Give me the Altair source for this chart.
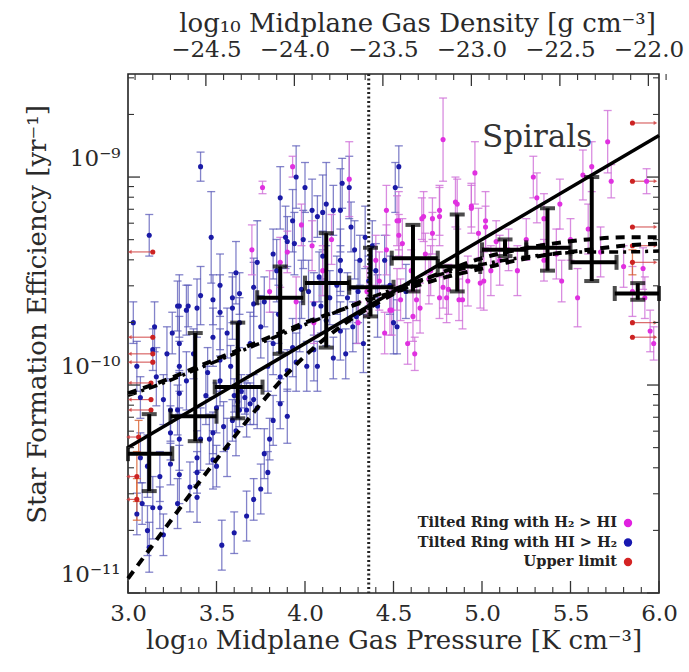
import altair as alt
import pandas as pd

# ---------------- data ----------------
# Tilted rings with HI > H2 (blue): log10 P, log10 SFE, error (dex)
blue_p = [3.03, 3.15, 3.14, 3.29, 3.33, 3.39, 3.25, 3.29, 3.05, 3.07, 3.16, 3.20, 3.24, 3.28, 3.29,
          3.24, 3.29, 3.07, 3.11, 3.18, 3.24, 3.29, 3.35, 3.08, 3.14, 3.18, 3.11, 3.28, 3.39, 3.39,
          3.46, 3.48, 3.50, 3.54, 3.59, 3.61, 3.67, 3.69, 3.71, 3.73, 3.56, 3.50, 3.41, 3.29, 3.33,
          3.45, 3.52, 3.58, 3.52, 3.48, 3.52, 3.59, 3.63, 3.71, 3.75, 3.79, 3.82, 3.86, 3.90, 3.95,
          4.01, 4.05, 4.07, 4.16, 3.93, 3.86, 3.90, 3.82, 3.80, 3.77, 3.79, 3.75, 3.71, 3.67, 3.60,
          3.53, 3.39, 3.48, 4.29, 4.33, 4.27, 4.20, 4.12, 4.05, 4.52, 3.41, 3.12, 3.47, 3.28, 3.34,
          3.41, 3.48, 3.52, 3.59, 3.61, 3.63, 3.71, 3.73, 3.82, 3.84, 3.89, 3.90, 3.94, 3.99, 4.04,
          4.07, 4.10, 4.12, 4.16, 4.20, 4.20, 4.21, 4.25, 4.26, 4.28, 4.31, 4.34, 4.38, 4.51, 4.53,
          3.98, 4.10, 3.93, 4.20, 4.50, 3.05, 3.12, 3.20, 3.60, 3.62, 3.64, 3.66, 3.63, 4.02, 4.08,
          4.14, 4.18, 4.24, 4.30, 4.36, 4.40, 4.45, 4.48, 3.86, 3.95, 4.00, 3.22, 3.37, 3.44, 3.56,
          3.69, 3.77, 3.85, 3.97, 4.09, 4.23, 4.41, 4.57]
blue_lsfe = [-9.70, -9.72, -9.83, -9.62, -9.64, -9.63, -9.75, -9.80, -9.91, -10.06, -9.96, -10.07, -10.12, -10.12, -10.04,
             -10.23, -10.26, -10.35, -10.39, -10.44, -10.38, -10.43, -10.49, -10.57, -10.59, -10.59, -10.70, -10.57, -10.35, -10.42,
             -10.26, -10.36, -10.39, -10.20, -10.17, -10.22, -10.12, -10.09, -10.07, -10.11, -10.30, -10.11, -10.26, -9.91, -9.98,
             -9.94, -9.88, -9.91, -9.98, -9.77, -9.65, -9.63, -9.70, -9.61, -9.72, -9.91, -9.80, -9.96, -9.93, -9.89,
             -9.91, -9.83, -9.91, -9.87, -9.82, -10.09, -10.15, -10.17, -10.26, -10.33, -10.42, -10.50, -10.55, -10.63, -10.71,
             -10.77, -10.54, -10.23, -9.67, -9.80, -9.72, -9.74, -9.69, -9.61, -9.72, -8.95, -9.28, -9.29, -9.62, -9.62,
             -9.57, -9.59, -9.52, -9.58, -9.46, -9.56, -9.53, -9.41, -9.37, -9.45, -9.29, -9.31, -9.32, -9.30, -9.16,
             -9.19, -9.17, -9.13, -9.16, -9.16, -9.40, -9.03, -9.05, -9.24, -9.35, -9.40, -9.29, -9.33, -9.05, -8.95,
             -9.54, -9.38, -9.21, -9.45, -9.70, -10.62, -10.78, -10.72, -10.05, -10.08, -10.03, -10.06, -10.12, -9.55, -9.48,
             -9.58, -9.52, -9.58, -9.55, -9.50, -9.45, -9.40, -9.52, -9.10, -9.00, -9.05, -9.85, -9.85, -10.05, -9.75,
             -9.80, -9.60, -9.66, -9.72, -9.62, -9.85, -9.62, -9.55]
blue_err = [0.10, 0.12, 0.10, 0.15, 0.12, 0.14, 0.10, 0.13, 0.12, 0.10, 0.14, 0.12, 0.15, 0.12, 0.10,
            0.13, 0.15, 0.12, 0.15, 0.12, 0.10, 0.14, 0.12, 0.10, 0.15, 0.10, 0.12, 0.12, 0.13, 0.10,
            0.12, 0.14, 0.10, 0.12, 0.10, 0.12, 0.13, 0.10, 0.12, 0.10, 0.14, 0.12, 0.15, 0.12, 0.14,
            0.12, 0.15, 0.10, 0.12, 0.14, 0.18, 0.15, 0.12, 0.20, 0.15, 0.12, 0.15, 0.12, 0.10, 0.14,
            0.12, 0.15, 0.12, 0.10, 0.14, 0.12, 0.13, 0.12, 0.10, 0.12, 0.10, 0.12, 0.10, 0.12, 0.10,
            0.12, 0.12, 0.10, 0.13, 0.14, 0.12, 0.14, 0.12, 0.15, 0.13, 0.07, 0.10, 0.22, 0.12, 0.10,
            0.14, 0.12, 0.15, 0.12, 0.15, 0.10, 0.14, 0.20, 0.12, 0.15, 0.15, 0.12, 0.15, 0.14, 0.15,
            0.10, 0.18, 0.20, 0.12, 0.20, 0.15, 0.12, 0.15, 0.12, 0.14, 0.12, 0.15, 0.12, 0.12, 0.10,
            0.14, 0.12, 0.15, 0.12, 0.15, 0.10, 0.12, 0.10, 0.08, 0.08, 0.08, 0.08, 0.08, 0.15, 0.12,
            0.13, 0.14, 0.12, 0.15, 0.12, 0.13, 0.12, 0.14, 0.15, 0.15, 0.12, 0.13, 0.12, 0.14, 0.12,
            0.15, 0.12, 0.14, 0.12, 0.13, 0.12, 0.15, 0.13]

# Tilted rings with H2 > HI (magenta)
mag_p = [3.76, 3.93, 3.98, 4.04, 3.90, 3.86, 4.25, 4.46, 4.52, 4.53, 4.46, 4.67, 4.72, 4.76, 4.85,
         4.94, 4.98, 5.02, 4.80, 4.78, 4.87, 4.92, 4.48, 4.54, 4.42, 4.61, 4.63, 4.70, 5.01, 4.78,
         4.76, 4.66, 4.72, 4.86, 4.96, 4.94, 5.02, 5.08, 5.29, 5.31, 5.44, 5.57, 5.71, 5.73, 5.93,
         5.42, 5.35, 5.54, 5.67, 5.92, 4.65, 4.76, 4.89, 4.99, 4.81, 4.52, 4.55, 4.53, 4.68, 4.71,
         4.49, 5.95, 5.97, 5.80, 5.91, 5.85, 5.10, 5.15, 5.20, 5.25, 5.05, 4.60, 4.40, 4.35, 4.30,
         4.58, 4.62, 4.45, 5.35, 5.50, 5.60, 5.45, 3.70, 3.80, 4.10, 4.15, 4.05, 3.95, 5.62]
mag_lsfe = [-9.05, -8.95, -9.23, -9.33, -9.36, -9.41, -9.01, -9.16, -9.21, -9.28, -9.35, -9.19, -9.27, -9.19, -9.12,
            -9.14, -9.27, -9.21, -9.58, -9.53, -9.59, -9.50, -9.64, -9.59, -9.50, -9.67, -9.59, -9.49, -9.50, -8.82,
            -9.16, -9.20, -9.20, -9.13, -8.98, -9.15, -9.24, -9.31, -9.00, -9.10, -9.13, -8.99, -8.83, -9.02, -9.02,
            -9.37, -9.40, -9.58, -9.36, -9.58, -9.63, -9.58, -9.59, -9.51, -9.54, -9.54, -9.32, -9.21, -9.37, -9.45,
            -9.64, -9.74, -9.80, -9.43, -9.44, -9.55, -9.40, -9.35, -9.45, -9.30, -9.45, -9.45, -9.40, -9.55, -9.70,
            -9.80, -9.85, -9.75, -9.20, -9.30, -9.25, -9.50, -9.35, -9.55, -9.45, -9.30, -9.70, -9.60, -8.95]
mag_err = [0.03, 0.05, 0.10, 0.12, 0.10, 0.12, 0.18, 0.12, 0.12, 0.10, 0.12, 0.12, 0.10, 0.14, 0.12,
           0.10, 0.12, 0.14, 0.12, 0.10, 0.10, 0.12, 0.12, 0.10, 0.14, 0.12, 0.10, 0.12, 0.14, 0.20,
           0.12, 0.10, 0.10, 0.12, 0.15, 0.12, 0.10, 0.10, 0.10, 0.12, 0.12, 0.12, 0.15, 0.08, 0.06,
           0.12, 0.10, 0.14, 0.12, 0.10, 0.12, 0.10, 0.14, 0.12, 0.12, 0.10, 0.12, 0.14, 0.10, 0.12,
           0.12, 0.10, 0.08, 0.10, 0.10, 0.12, 0.12, 0.10, 0.12, 0.10, 0.12, 0.10, 0.12, 0.12, 0.10,
           0.10, 0.08, 0.10, 0.12, 0.10, 0.12, 0.10, 0.12, 0.10, 0.12, 0.12, 0.10, 0.12, 0.12]

# Upper limits (red): position, vertical error, end of the horizontal arrow
red_p = [3.14, 3.14, 3.14, 3.14, 3.13, 3.13, 3.13, 3.06, 3.05, 3.05,
         5.85, 5.85, 5.85, 5.85, 5.85, 5.85, 5.85]
red_lsfe = [-9.36, -9.77, -9.85, -9.89, -9.99, -10.07, -10.12, -10.25, -10.44, -10.55,
            -8.74, -9.02, -9.24, -9.33, -9.41, -9.70, -9.77]
red_err = [0.0, 0.0, 0.0, 0.0, 0.0, 0.0, 0.0, 0.08, 0.12, 0.10,
           0.0, 0.0, 0.0, 0.0, 0.06, 0.0, 0.0]
red_p_end = [3.01, 3.01, 3.01, 3.01, 3.01, 3.01, 3.01, 3.0, 3.0, 3.0,
             5.98, 5.98, 5.98, 5.98, 5.98, 5.98, 5.98]

# Binned averages (black crosses)
bin_p = [3.12, 3.38, 3.62, 3.86, 4.12, 4.37, 4.61, 4.86, 5.13, 5.37, 5.62, 5.88]
bin_lsfe = [-10.33, -10.15, -10.01, -9.58, -9.51, -9.53, -9.39, -9.43, -9.35, -9.34, -9.41, -9.56]
bin_lo = [-10.51, -10.27, -10.16, -9.85, -9.82, -9.67, -9.55, -9.55, -9.38, -9.45, -9.50, -9.59]
bin_hi = [-10.14, -9.75, -9.70, -9.43, -9.27, -9.34, -9.23, -9.18, -9.30, -9.15, -9.00, -9.51]
bin_plo = [3.00, 3.24, 3.49, 3.73, 4.00, 4.25, 4.49, 4.75, 5.00, 5.25, 5.50, 5.75]
bin_phi = [3.25, 3.50, 3.76, 3.99, 4.25, 4.50, 4.75, 4.99, 5.25, 5.50, 5.76, 6.00]

# Model curves
spiral_p = [3.0, 6.0]
spiral_lsfe = [-10.30, -8.80]
curve_p = [3.0, 3.2, 3.4, 3.6, 3.8, 4.0, 4.2, 4.4, 4.6, 4.8, 5.0, 5.2, 5.4, 5.6, 5.8, 6.0]
steep_lsfe = [-10.93, -10.70, -10.47, -10.25, -10.04, -9.86, -9.72, -9.61, -9.52, -9.45, -9.39, -9.35, -9.32, -9.30, -9.29, -9.29]
shallow_lsfe = [-10.04, -9.98, -9.91, -9.84, -9.77, -9.70, -9.64, -9.58, -9.53, -9.48, -9.44, -9.40, -9.37, -9.35, -9.33, -9.32]
dashdot_lsfe = [-10.05, -9.99, -9.92, -9.85, -9.78, -9.71, -9.64, -9.57, -9.51, -9.46, -9.42, -9.39, -9.37, -9.36, -9.36, -9.355]
vline_p = [4.36]

# Axes
x_labels = [3.0, 3.5, 4.0, 4.5, 5.0, 5.5, 6.0]
top_labels = [-24.5, -24.0, -23.5, -23.0, -22.5, -22.0]
density_offset = 27.94   # log rho = log P - offset
y_labels = [1e-11, 1e-10, 1e-9]

legend_labels = ["Tilted Ring with H₂ > HI", "Tilted Ring with HI > H₂", "Upper limit"]
legend_colors = ["#e020e0", "#1818b0", "#d42424"]

# ---------------- build tables ----------------
def pts(p, l, e):
    df = pd.DataFrame({"p": p, "l": l, "e": e})
    df["sfe"] = 10 ** df["l"]
    df["lo"] = 10 ** (df["l"] - df["e"])
    df["hi"] = 10 ** (df["l"] + df["e"])
    return df

blue = pts(blue_p, blue_lsfe, blue_err)
mag = pts(mag_p, mag_lsfe, mag_err)
red = pts(red_p, red_lsfe, red_err)
red["p2"] = red_p_end
red["dir"] = ["L" if b < a else "R" for a, b in zip(red_p, red_p_end)]
red_eb = red[red["e"] > 0]

bins = pd.DataFrame({"p": bin_p, "sfe": [10 ** v for v in bin_lsfe],
                     "lo": [10 ** v for v in bin_lo], "hi": [10 ** v for v in bin_hi],
                     "plo": bin_plo, "phi": bin_phi})
spiral = pd.DataFrame({"p": spiral_p, "sfe": [10 ** v for v in spiral_lsfe]})
steep = pd.DataFrame({"p": curve_p, "sfe": [10 ** v for v in steep_lsfe]})
shallow = pd.DataFrame({"p": curve_p, "sfe": [10 ** v for v in shallow_lsfe]})
dashdot = pd.DataFrame({"p": curve_p, "sfe": [10 ** v for v in dashdot_lsfe]})
vline = pd.DataFrame({"p": vline_p})

x_minor = [round(3.0 + 0.1 * i, 1) for i in range(31)]
xt_major = pd.DataFrame({"v": x_labels})
xt_minor = pd.DataFrame({"v": [v for v in x_minor if v not in x_labels]})
y_minor_vals = [m * 10.0 ** k for k in (-11, -10, -9) for m in range(2, 10) if m * 10.0 ** k < 3.1e-9]
yt_major = pd.DataFrame({"v": y_labels})
yt_minor = pd.DataFrame({"v": y_minor_vals})
d_minor = [round(-24.9 + 0.1 * i, 1) for i in range(31)]
dt_major = pd.DataFrame({"d": top_labels})
dt_minor = pd.DataFrame({"d": [v for v in d_minor if v not in top_labels]})

# ---------------- chart ----------------
W, H = 531, 519
FONT = "DejaVu Serif"
TXT = "#2a2a2a"

xs = alt.Scale(domain=[3.0, 6.0], nice=False, zero=False)
ys = alt.Scale(type="log", domain=[1e-11, 3.13e-9], nice=False)
ds = alt.Scale(domain=[3.0 - density_offset, 6.0 - density_offset], nice=False, zero=False)

x_axis = alt.Axis(values=x_labels, format=".1f", ticks=False, domain=False, grid=False,
                  labelFlush=False, labelOverlap=False, labelPadding=9, labelFontSize=23,
                  labelFont=FONT, labelColor=TXT,
                  title="log₁₀ Midplane Gas Pressure [K cm⁻³]", titleFont=FONT, titleFontSize=26,
                  titleFontWeight="normal", titleColor=TXT, titlePadding=2)
y_axis = alt.Axis(values=y_labels, ticks=False, domain=False, grid=False,
                  labelExpr="datum.value < 5e-11 ? '10⁻¹¹' : (datum.value < 5e-10 ? '10⁻¹⁰' : '10⁻⁹')",
                  labelPadding=8, labelFontSize=23, labelFont=FONT, labelColor=TXT,
                  labelOverlap=False, labelFlush=False, labelOffset=-19,
                  title="Star Formation Efficiency [yr⁻¹]", titleFont=FONT, titleFontSize=26,
                  titleFontWeight="normal", titleColor=TXT, titleX=-91, titleY=240,
                  titleAngle=270, titleAlign="center", titleBaseline="middle")
top_axis = alt.Axis(values=top_labels, format=".1f", ticks=False, domain=False, grid=False,
                    orient="top", labelFlush=False, labelOverlap=False, labelPadding=13,
                    labelFontSize=23, labelFont=FONT, labelColor=TXT,
                    title="log₁₀ Midplane Gas Density [g cm⁻³]", titleFont=FONT, titleFontSize=26,
                    titleFontWeight="normal", titleColor=TXT, titlePadding=2,
                    titleX=289, titleAlign="center")


def X(f):
    return alt.X(f, type="quantitative", scale=xs, axis=x_axis)


def Y(f):
    return alt.Y(f, type="quantitative", scale=ys, axis=y_axis)


def errbars(df, color, op):
    rule = alt.Chart(df).mark_rule(color=color, strokeWidth=1.3, opacity=op).encode(
        x=X("p"), y=Y("lo"), y2="hi")
    cap1 = alt.Chart(df).mark_tick(color=color, orient="horizontal", size=8, thickness=1.3,
                                   opacity=op).encode(x=X("p"), y=Y("lo"))
    cap2 = alt.Chart(df).mark_tick(color=color, orient="horizontal", size=8, thickness=1.3,
                                   opacity=op).encode(x=X("p"), y=Y("hi"))
    return [rule, cap1, cap2]


def dots(df, color, size=26):
    return alt.Chart(df).mark_circle(color=color, size=size, opacity=1).encode(x=X("p"), y=Y("sfe"))


layers = []
layers += errbars(blue, "#5a5ab8", 0.75)
layers += errbars(mag, "#d070d8", 0.8)
layers += errbars(red_eb, "#d86030", 0.8)
layers.append(alt.Chart(red).mark_rule(color="#d04040", strokeWidth=1.2, opacity=0.8).encode(
    x=X("p"), x2="p2", y=Y("sfe")))
layers.append(alt.Chart(red).mark_point(filled=True, size=18, color="#d04040", opacity=0.8).encode(
    x=alt.X("p2", type="quantitative", scale=xs, axis=x_axis), y=Y("sfe"),
    shape=alt.Shape("dir:N", scale=alt.Scale(domain=["L", "R"], range=["triangle-left", "triangle-right"]),
                    legend=None)))
layers.append(dots(blue, "#1a1aa6"))
layers.append(dots(mag, "#e030e0"))
layers.append(dots(red, "#cc2222"))

# model curves
layers.append(alt.Chart(spiral).mark_line(color="black", strokeWidth=3.5).encode(x=X("p"), y=Y("sfe")))
layers.append(alt.Chart(steep).mark_line(color="black", strokeWidth=4, strokeDash=[9, 7],
                                         interpolate="monotone").encode(x=X("p"), y=Y("sfe")))
layers.append(alt.Chart(shallow).mark_line(color="black", strokeWidth=4, strokeDash=[9, 7],
                                           interpolate="monotone").encode(x=X("p"), y=Y("sfe")))
layers.append(alt.Chart(dashdot).mark_line(color="black", strokeWidth=3.5, strokeDash=[9, 5, 3, 5],
                                           interpolate="monotone").encode(x=X("p"), y=Y("sfe")))
layers.append(alt.Chart(vline).mark_rule(color="#222", strokeWidth=3, strokeDash=[2, 2.5]).encode(
    x=X("p"), y=alt.value(0), y2=alt.value(H)))

# binned averages
layers.append(alt.Chart(bins).mark_rule(color="black", strokeWidth=4).encode(x=X("p"), y=Y("lo"), y2="hi"))
layers.append(alt.Chart(bins).mark_rule(color="black", strokeWidth=4).encode(x=X("plo"), x2="phi", y=Y("sfe")))
for f in ("lo", "hi"):
    layers.append(alt.Chart(bins).mark_tick(color="black", orient="horizontal", size=15, thickness=4).encode(
        x=X("p"), y=Y(f)))
for f in ("plo", "phi"):
    layers.append(alt.Chart(bins).mark_tick(color="black", orient="vertical", size=15, thickness=4).encode(
        x=X(f), y=Y("sfe")))

# inward ticks: bottom, left, right
layers.append(alt.Chart(xt_major).mark_rule(color="#333", strokeWidth=1.3).encode(
    x=X("v"), y=alt.value(H), y2=alt.value(H - 12)))
layers.append(alt.Chart(xt_minor).mark_rule(color="#333", strokeWidth=1.1).encode(
    x=X("v"), y=alt.value(H), y2=alt.value(H - 6)))
for x0, s in ((0, 1), (W, -1)):
    layers.append(alt.Chart(yt_major).mark_rule(color="#333", strokeWidth=1.3).encode(
        y=Y("v"), x=alt.value(x0), x2=alt.value(x0 + s * 12)))
    layers.append(alt.Chart(yt_minor).mark_rule(color="#333", strokeWidth=1.1).encode(
        y=Y("v"), x=alt.value(x0), x2=alt.value(x0 + s * 6)))

# annotations
layers.append(alt.Chart(pd.DataFrame({"t": ["Spirals"]})).mark_text(
    font=FONT, fontSize=31, color="#333", align="center", baseline="middle").encode(
    text="t:N", x=alt.value(409), y=alt.value(64)))
for i, (lab, col) in enumerate(zip(legend_labels, legend_colors)):
    row = pd.DataFrame({"t": [lab]})
    yy = 449 + 19.5 * i
    layers.append(alt.Chart(row).mark_text(font=FONT, fontSize=14.5, fontWeight="bold", color="#222",
                                           align="right", baseline="middle").encode(
        text="t:N", x=alt.value(489), y=alt.value(yy)))
    layers.append(alt.Chart(row).mark_circle(color=col, size=70, opacity=1).encode(
        x=alt.value(500), y=alt.value(yy)))

main = alt.layer(*layers)

top_layers = [
    alt.Chart(dt_major).mark_rule(color="#333", strokeWidth=1.3).encode(
        x=alt.X("d", type="quantitative", scale=ds, axis=top_axis), y=alt.value(0), y2=alt.value(12)),
    alt.Chart(dt_minor).mark_rule(color="#333", strokeWidth=1.1).encode(
        x=alt.X("d", type="quantitative", scale=ds, axis=top_axis), y=alt.value(0), y2=alt.value(6)),
]
top = alt.layer(*top_layers)

chart = alt.layer(main, top).resolve_scale(x="independent").properties(
    width=W, height=H,
    autosize=alt.AutoSizeParams(type="none"),
    padding={"left": 128, "top": 74, "right": 30, "bottom": 79},
    background="white",
).configure_view(stroke="#222", strokeWidth=1.6)

chart.save("out.html", embed_options={"renderer": "svg", "actions": False})
